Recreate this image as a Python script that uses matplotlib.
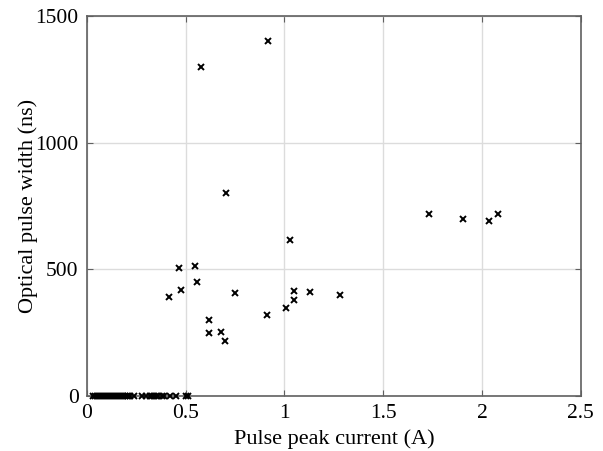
import numpy as np
import matplotlib.pyplot as plt

plt.rcParams['font.family'] = ['Liberation Serif', 'DejaVu Serif']

# pulses that produced no optical output (width 0)
zero_current = [0.03, 0.04, 0.05, 0.06, 0.07, 0.08, 0.09, 0.10, 0.11, 0.12,
                0.13, 0.14, 0.15, 0.16, 0.17, 0.18, 0.19, 0.20, 0.21, 0.22,
                0.24, 0.28, 0.30, 0.32, 0.33, 0.34, 0.35, 0.36, 0.38, 0.39,
                0.42, 0.45, 0.50, 0.51]
zero_width = [0] * len(zero_current)

peak_current = [0.577, 0.914, 0.703, 0.465, 0.548, 0.559, 0.475, 0.416,
                0.749, 0.619, 0.617, 0.680, 0.700, 0.909, 1.029, 1.050,
                1.131, 1.048, 1.009, 1.280, 1.731, 1.903, 2.035, 2.083]
pulse_width = [1300, 1400, 800, 504, 512, 450, 419, 390,
               405, 301, 249, 251, 219, 319, 617, 415,
               410, 380, 349, 400, 720, 699, 689, 720]

x = zero_current + peak_current
y = zero_width + pulse_width

fig = plt.figure(figsize=(6.03, 4.51), dpi=100)
ax = fig.add_axes([0.1443, 0.122, 0.8187, 0.8425])
ax.plot(x, y, 'x', color='black', markersize=5, markeredgewidth=1.4,
        clip_on=False, zorder=3)

ax.set_xlim(0, 2.5)
ax.set_ylim(0, 1500)
ax.set_xticks([0, 0.5, 1, 1.5, 2, 2.5])
ax.set_xticklabels(['0', '0.5', '1', '1.5', '2', '2.5'])
ax.set_yticks([0, 500, 1000, 1500])
ax.grid(True, color='#dcdcdc', linewidth=1)
ax.set_axisbelow(True)
for s in ax.spines.values():
    s.set_color('#606060')
    s.set_linewidth(1.2)
ax.tick_params(direction='in', length=4, color='#606060', labelsize=15.5,
               top=True, right=True, pad=6)
ax.set_xlabel('Pulse peak current (A)', fontsize=16)
ax.set_ylabel('Optical pulse width (ns)', fontsize=16, labelpad=-2)

fig.savefig('out.png', dpi=100)
